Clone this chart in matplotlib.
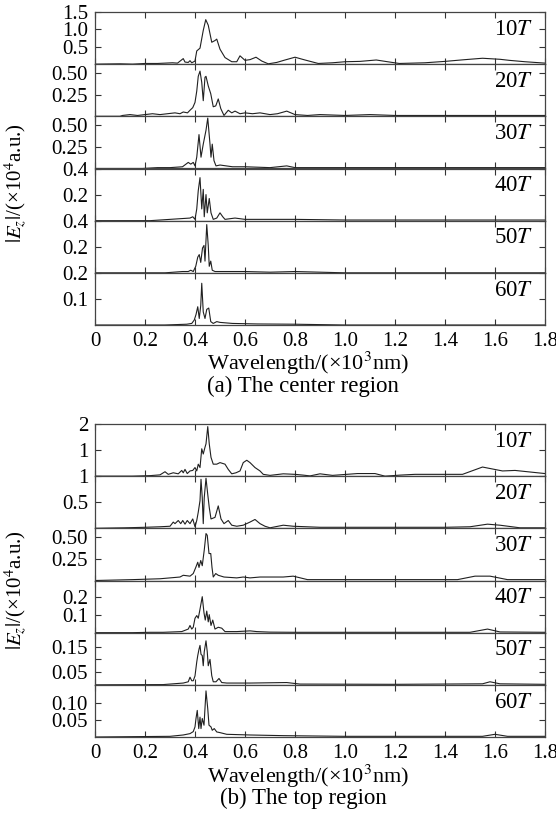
import numpy as np
import matplotlib
matplotlib.use("Agg")
import matplotlib.pyplot as plt

plt.rcParams['font.family'] = ['Liberation Serif', 'DejaVu Serif']
plt.rcParams['mathtext.fontset'] = 'stix'

# ---- (a) the center region ----
wl_c10 = [0, 0.10, 0.15, 0.20, 0.25, 0.28, 0.31, 0.33, 0.353, 0.36, 0.373, 0.38, 0.387, 0.395, 0.40, 0.407,
          0.42, 0.433, 0.443, 0.453, 0.467, 0.48, 0.487, 0.50, 0.52, 0.547, 0.567, 0.58, 0.60, 0.62, 0.644,
          0.667, 0.693, 0.727, 0.76, 0.80, 0.84, 0.893, 0.95, 1.00, 1.06, 1.125, 1.17, 1.217, 1.27, 1.32,
          1.40, 1.48, 1.55, 1.62, 1.657, 1.72, 1.80]
ez_c10 = [0, 0.01, 0.0, 0.02, 0.02, 0.03, 0.04, 0.03, 0.16, 0.06, 0.05, 0.10, 0.04, 0.07, 0.09, 0.38,
          0.46, 0.97, 1.28, 1.12, 0.63, 0.68, 0.72, 0.43, 0.19, 0.07, 0.07, 0.24, 0.11, 0.13, 0.20,
          0.09, 0.01, 0.05, 0.12, 0.20, 0.12, 0.02, 0.04, 0.07, 0.08, 0.12, 0.07, 0.02, 0.03, 0.04,
          0.08, 0.13, 0.17, 0.14, 0.11, 0.07, 0.03]

wl_c20 = [0, 0.10, 0.11, 0.14, 0.17, 0.20, 0.23, 0.26, 0.29, 0.32, 0.34, 0.353, 0.37, 0.38, 0.391, 0.40,
          0.407, 0.413, 0.42, 0.427, 0.433, 0.44, 0.444, 0.453, 0.463, 0.473, 0.483, 0.493, 0.503, 0.516,
          0.533, 0.547, 0.56, 0.58, 0.60, 0.63, 0.66, 0.70, 0.73, 0.767, 0.80, 0.85, 0.90, 1.0, 1.1, 1.2,
          1.3, 1.4, 1.5, 1.6, 1.7, 1.8]
ez_c20 = [0, 0, 0.01, 0.02, 0.01, 0.02, 0.03, 0.02, 0.03, 0.04, 0.03, 0.05, 0.04, 0.07, 0.10, 0.16,
          0.29, 0.46, 0.52, 0.39, 0.18, 0.45, 0.46, 0.35, 0.26, 0.11, 0.12, 0.20, 0.09, 0.01,
          0.07, 0.04, 0.06, 0.03, 0.04, 0.03, 0.04, 0.02, 0.03, 0.06, 0.02, 0.01, 0.02, 0.01, 0.02, 0.01,
          0.01, 0.01, 0.01, 0.01, 0.01, 0.01]

wl_c30 = [0, 0.19, 0.25, 0.30, 0.35, 0.373, 0.383, 0.393, 0.40, 0.407, 0.416, 0.424, 0.433, 0.444, 0.451,
          0.46, 0.464, 0.469, 0.476, 0.484, 0.50, 0.55, 0.60, 0.70, 0.767, 0.80, 1.0, 1.2, 1.4, 1.6, 1.8]
ez_c30 = [0, 0, 0.01, 0.01, 0.02, 0.07, 0.05, 0.07, 0.03, 0.13, 0.39, 0.13, 0.28, 0.44, 0.58,
          0.28, 0.13, 0.28, 0.09, 0.03, 0.04, 0.02, 0.02, 0.01, 0.03, 0.01, 0.01, 0.01, 0.01, 0.01, 0.01]

wl_c40 = [0, 0.22, 0.30, 0.38, 0.391, 0.40, 0.407, 0.413, 0.42, 0.427, 0.433, 0.437, 0.444, 0.449, 0.457,
          0.464, 0.473, 0.487, 0.50, 0.511, 0.52, 0.56, 0.60, 0.70, 0.80, 1.0, 1.2, 1.4, 1.6, 1.8]
ez_c40 = [0, 0, 0.01, 0.02, 0.03, 0.01, 0.09, 0.23, 0.33, 0.09, 0.24, 0.03, 0.20, 0.06, 0.17,
          0.06, 0.01, 0.02, 0.06, 0.03, 0.01, 0.02, 0.01, 0.01, 0.01, 0.005, 0.005, 0.005, 0.005, 0.005]

wl_c50 = [0, 0.28, 0.35, 0.373, 0.383, 0.393, 0.403, 0.411, 0.417, 0.423, 0.43, 0.436, 0.44, 0.447, 0.453,
          0.457, 0.463, 0.469, 0.48, 0.52, 0.60, 0.70, 0.80, 1.0, 1.4, 1.8]
ez_c50 = [0, 0, 0.01, 0.01, 0.02, 0.01, 0.05, 0.12, 0.14, 0.08, 0.19, 0.21, 0.09, 0.37, 0.21,
          0.05, 0.09, 0.02, 0.01, 0.01, 0.01, 0.005, 0.01, 0.0, 0.0, 0.0]

wl_c60 = [0, 0.28, 0.367, 0.387, 0.397, 0.404, 0.411, 0.417, 0.423, 0.427, 0.433, 0.44, 0.447, 0.455,
          0.463, 0.473, 0.487, 0.50, 0.55, 0.65, 0.80, 1.0, 1.8]
ez_c60 = [0, 0, 0.003, 0.006, 0.019, 0.04, 0.07, 0.025, 0.075, 0.16, 0.05, 0.025, 0.06, 0.065,
          0.013, 0.006, 0.013, 0.01, 0.006, 0.004, 0.003, 0.0, 0.0]

# ---- (b) the top region ----
wl_t10 = [0, 0.15, 0.22, 0.26, 0.28, 0.293, 0.313, 0.333, 0.347, 0.353, 0.36, 0.369, 0.38, 0.391, 0.40,
          0.407, 0.413, 0.42, 0.427, 0.433, 0.44, 0.444, 0.451, 0.457, 0.464, 0.473, 0.487, 0.50, 0.52,
          0.533, 0.547, 0.564, 0.58, 0.593, 0.607, 0.62, 0.64, 0.66, 0.673, 0.70, 0.753, 0.80, 0.833,
          0.86, 0.90, 0.95, 1.05, 1.12, 1.16, 1.22, 1.28, 1.47, 1.55, 1.63, 1.68, 1.75, 1.80]
ez_t10 = [0, 0, 0.02, 0.05, 0.17, 0.07, 0.13, 0.09, 0.22, 0.13, 0.26, 0.10, 0.20, 0.22, 0.33,
          0.20, 0.46, 0.33, 1.05, 0.85, 1.11, 1.24, 1.90, 1.24, 0.72, 0.46, 0.46, 0.52, 0.46,
          0.26, 0.09, 0.13, 0.20, 0.52, 0.61, 0.52, 0.33, 0.20, 0.07, 0.03, 0.09, 0.07, 0.04,
          0.01, 0.09, 0.03, 0.10, 0.10, 0.0, 0.04, 0.07, 0.07, 0.35, 0.20, 0.22, 0.15, 0.10]

wl_t20 = [0, 0.12, 0.20, 0.26, 0.30, 0.313, 0.32, 0.333, 0.343, 0.351, 0.36, 0.369, 0.38, 0.391, 0.40,
          0.407, 0.413, 0.42, 0.424, 0.429, 0.433, 0.437, 0.444, 0.451, 0.457, 0.464, 0.48, 0.493, 0.504,
          0.516, 0.533, 0.547, 0.567, 0.593, 0.62, 0.64, 0.66, 0.68, 0.70, 0.753, 0.793, 0.847, 0.90,
          1.0, 1.2, 1.4, 1.50, 1.57, 1.62, 1.7, 1.8]
ez_t20 = [0, 0.01, 0.02, 0.03, 0.04, 0.12, 0.09, 0.15, 0.09, 0.15, 0.08, 0.15, 0.09, 0.18, 0.03,
          0.15, 0.31, 0.53, 0.94, 0.59, 0.09, 0.59, 0.96, 0.65, 0.40, 0.18, 0.21, 0.43, 0.18,
          0.09, 0.15, 0.06, 0.04, 0.06, 0.12, 0.17, 0.09, 0.04, 0.01, 0.06, 0.04, 0.03, 0.02,
          0.02, 0.02, 0.02, 0.03, 0.08, 0.06, 0.01, 0.01]

wl_t30 = [0, 0.15, 0.26, 0.30, 0.34, 0.353, 0.38, 0.393, 0.403, 0.411, 0.416, 0.423, 0.429, 0.437, 0.444,
          0.449, 0.456, 0.463, 0.468, 0.473, 0.483, 0.493, 0.516, 0.567, 0.593, 0.62, 0.66, 0.753, 0.793,
          0.85, 1.0, 1.2, 1.45, 1.52, 1.58, 1.65, 1.8]
ez_t30 = [0, 0.01, 0.02, 0.03, 0.04, 0.06, 0.05, 0.08, 0.15, 0.21, 0.15, 0.23, 0.17, 0.35, 0.54,
          0.52, 0.31, 0.31, 0.15, 0.04, 0.08, 0.06, 0.04, 0.03, 0.04, 0.03, 0.04, 0.04, 0.05,
          0.01, 0.01, 0.01, 0.01, 0.05, 0.05, 0.01, 0.01]

wl_t40 = [0, 0.15, 0.22, 0.273, 0.347, 0.373, 0.38, 0.387, 0.393, 0.40, 0.407, 0.413, 0.42, 0.429, 0.436,
          0.441, 0.447, 0.453, 0.457, 0.464, 0.471, 0.48, 0.493, 0.507, 0.52, 0.567, 0.62, 0.647, 0.70,
          0.80, 1.2, 1.5, 1.57, 1.62, 1.8]
ez_t40 = [0, 0, 0.002, 0.002, 0.006, 0.02, 0.04, 0.02, 0.03, 0.08, 0.095, 0.08, 0.13, 0.2, 0.11,
          0.07, 0.12, 0.06, 0.10, 0.04, 0.07, 0.02, 0.03, 0.025, 0.006, 0.006, 0.01, 0.006, 0.003,
          0.002, 0.002, 0.002, 0.02, 0.004, 0.002]

wl_t50 = [0, 0.273, 0.353, 0.373, 0.38, 0.387, 0.393, 0.40, 0.407, 0.411, 0.416, 0.42, 0.424, 0.429,
          0.433, 0.437, 0.444, 0.449, 0.453, 0.46, 0.467, 0.473, 0.484, 0.496, 0.507, 0.527, 0.62, 0.767,
          0.82, 1.2, 1.55, 1.58, 1.62, 1.8]
ez_t50 = [0, 0.001, 0.007, 0.012, 0.03, 0.016, 0.016, 0.035, 0.09, 0.115, 0.14, 0.155, 0.12, 0.115,
          0.075, 0.13, 0.173, 0.13, 0.075, 0.10, 0.036, 0.012, 0.012, 0.025, 0.009, 0.007, 0.007, 0.009,
          0.003, 0.002, 0.004, 0.012, 0.004, 0.002]

wl_t60 = [0, 0.30, 0.353, 0.38, 0.393, 0.40, 0.404, 0.409, 0.415, 0.42, 0.424, 0.429, 0.436, 0.444,
          0.451, 0.456, 0.464, 0.469, 0.477, 0.487, 0.50, 0.527, 0.62, 0.753, 1.0, 1.55, 1.6, 1.65, 1.8]
ez_t60 = [0, 0.002, 0.006, 0.01, 0.016, 0.03, 0.055, 0.079, 0.025, 0.059, 0.025, 0.055, 0.035, 0.137,
          0.084, 0.035, 0.03, 0.02, 0.025, 0.015, 0.013, 0.008, 0.006, 0.004, 0.002, 0.002, 0.008, 0.002,
          0.002]

periods = ['10', '20', '30', '40', '50', '60']

# y-range, ticks and tick labels of every panel
ylim_c = [1.5, 0.6, 0.6, 0.4, 0.4, 0.2]
yticks_c = [[0.5, 1.0, 1.5], [0.25, 0.5], [0.25, 0.5], [0.2, 0.4], [0.2, 0.4], [0.1, 0.2]]
ylabs_c = [['0.5', '1.0', '1.5'], ['0.25', '0.50'], ['0.25', '0.50'], ['0.2', '0.4'], ['0.2', '0.4'], ['0.1', '0.2']]

ylim_t = [2.0, 1.0, 0.6, 0.29, 0.205, 0.155]
yticks_t = [[1, 2], [0.5, 1], [0.25, 0.5], [0.1, 0.2], [0.05, 0.1, 0.15], [0.05, 0.1]]
ylabs_t = [['1', '2'], ['0.5', '1'], ['0.25', '0.50'], ['0.1', '0.2'], ['0.05', '', '0.15'], ['0.05', '0.10']]

xticks = [0, 0.2, 0.4, 0.6, 0.8, 1.0, 1.2, 1.4, 1.6, 1.8]
xlabs = ['0', '0.2', '0.4', '0.6', '0.8', '1.0', '1.2', '1.4', '1.6', '1.8']

W, H = 556, 830
fig = plt.figure(figsize=(W / 100, H / 100), dpi=100)

left, width = 95, 450
ph = 313 / 6.0


def draw_group(top, series, ylims, yticks, ylabs, caption, ylab_y, xlab_y, cap_y):
    for i, (wl, ez) in enumerate(series):
        y0 = top + i * ph
        ax = fig.add_axes([left / W, 1 - (y0 + ph) / H, width / W, ph / H])
        ax.plot(wl, ez, color='#202020', lw=0.8)
        ax.set_xlim(0, 1.8)
        ax.set_ylim(0, ylims[i])
        ax.set_yticks(yticks[i])
        ax.set_yticklabels(ylabs[i])
        ax.set_xticks(xticks)
        if i == len(series) - 1:
            ax.set_xticklabels(xlabs)
        else:
            ax.set_xticklabels([])
        ax.tick_params(direction='in', top=True, right=True, length=4, width=0.8,
                       labelsize=15, pad=5, color='#333333')
        for s in ax.spines.values():
            s.set_linewidth(0.9)
            s.set_color('#444444')
        ax.text(0.975, 0.67, periods[i] + '$T$', transform=ax.transAxes,
                ha='right', va='center', fontsize=16.5)
    fig.text(15 / W, 1 - ylab_y / H, r'$|E_z|$/(×10$^4$a.u.)', rotation=90,
             ha='center', va='center', fontsize=15)
    fig.text(308 / W, 1 - xlab_y / H, 'Wavelength/(×10$^3$nm)', ha='center', va='center', fontsize=16)
    fig.text(303 / W, 1 - cap_y / H, caption, ha='center', va='center', fontsize=16.5)


draw_group(12, [(wl_c10, ez_c10), (wl_c20, ez_c20), (wl_c30, ez_c30),
                (wl_c40, ez_c40), (wl_c50, ez_c50), (wl_c60, ez_c60)],
           ylim_c, yticks_c, ylabs_c, '(a) The center region', 183, 363, 386)

draw_group(424, [(wl_t10, ez_t10), (wl_t20, ez_t20), (wl_t30, ez_t30),
                 (wl_t40, ez_t40), (wl_t50, ez_t50), (wl_t60, ez_t60)],
           ylim_t, yticks_t, ylabs_t, '(b) The top region', 590, 776, 798)

fig.savefig('out.png', dpi=100)
